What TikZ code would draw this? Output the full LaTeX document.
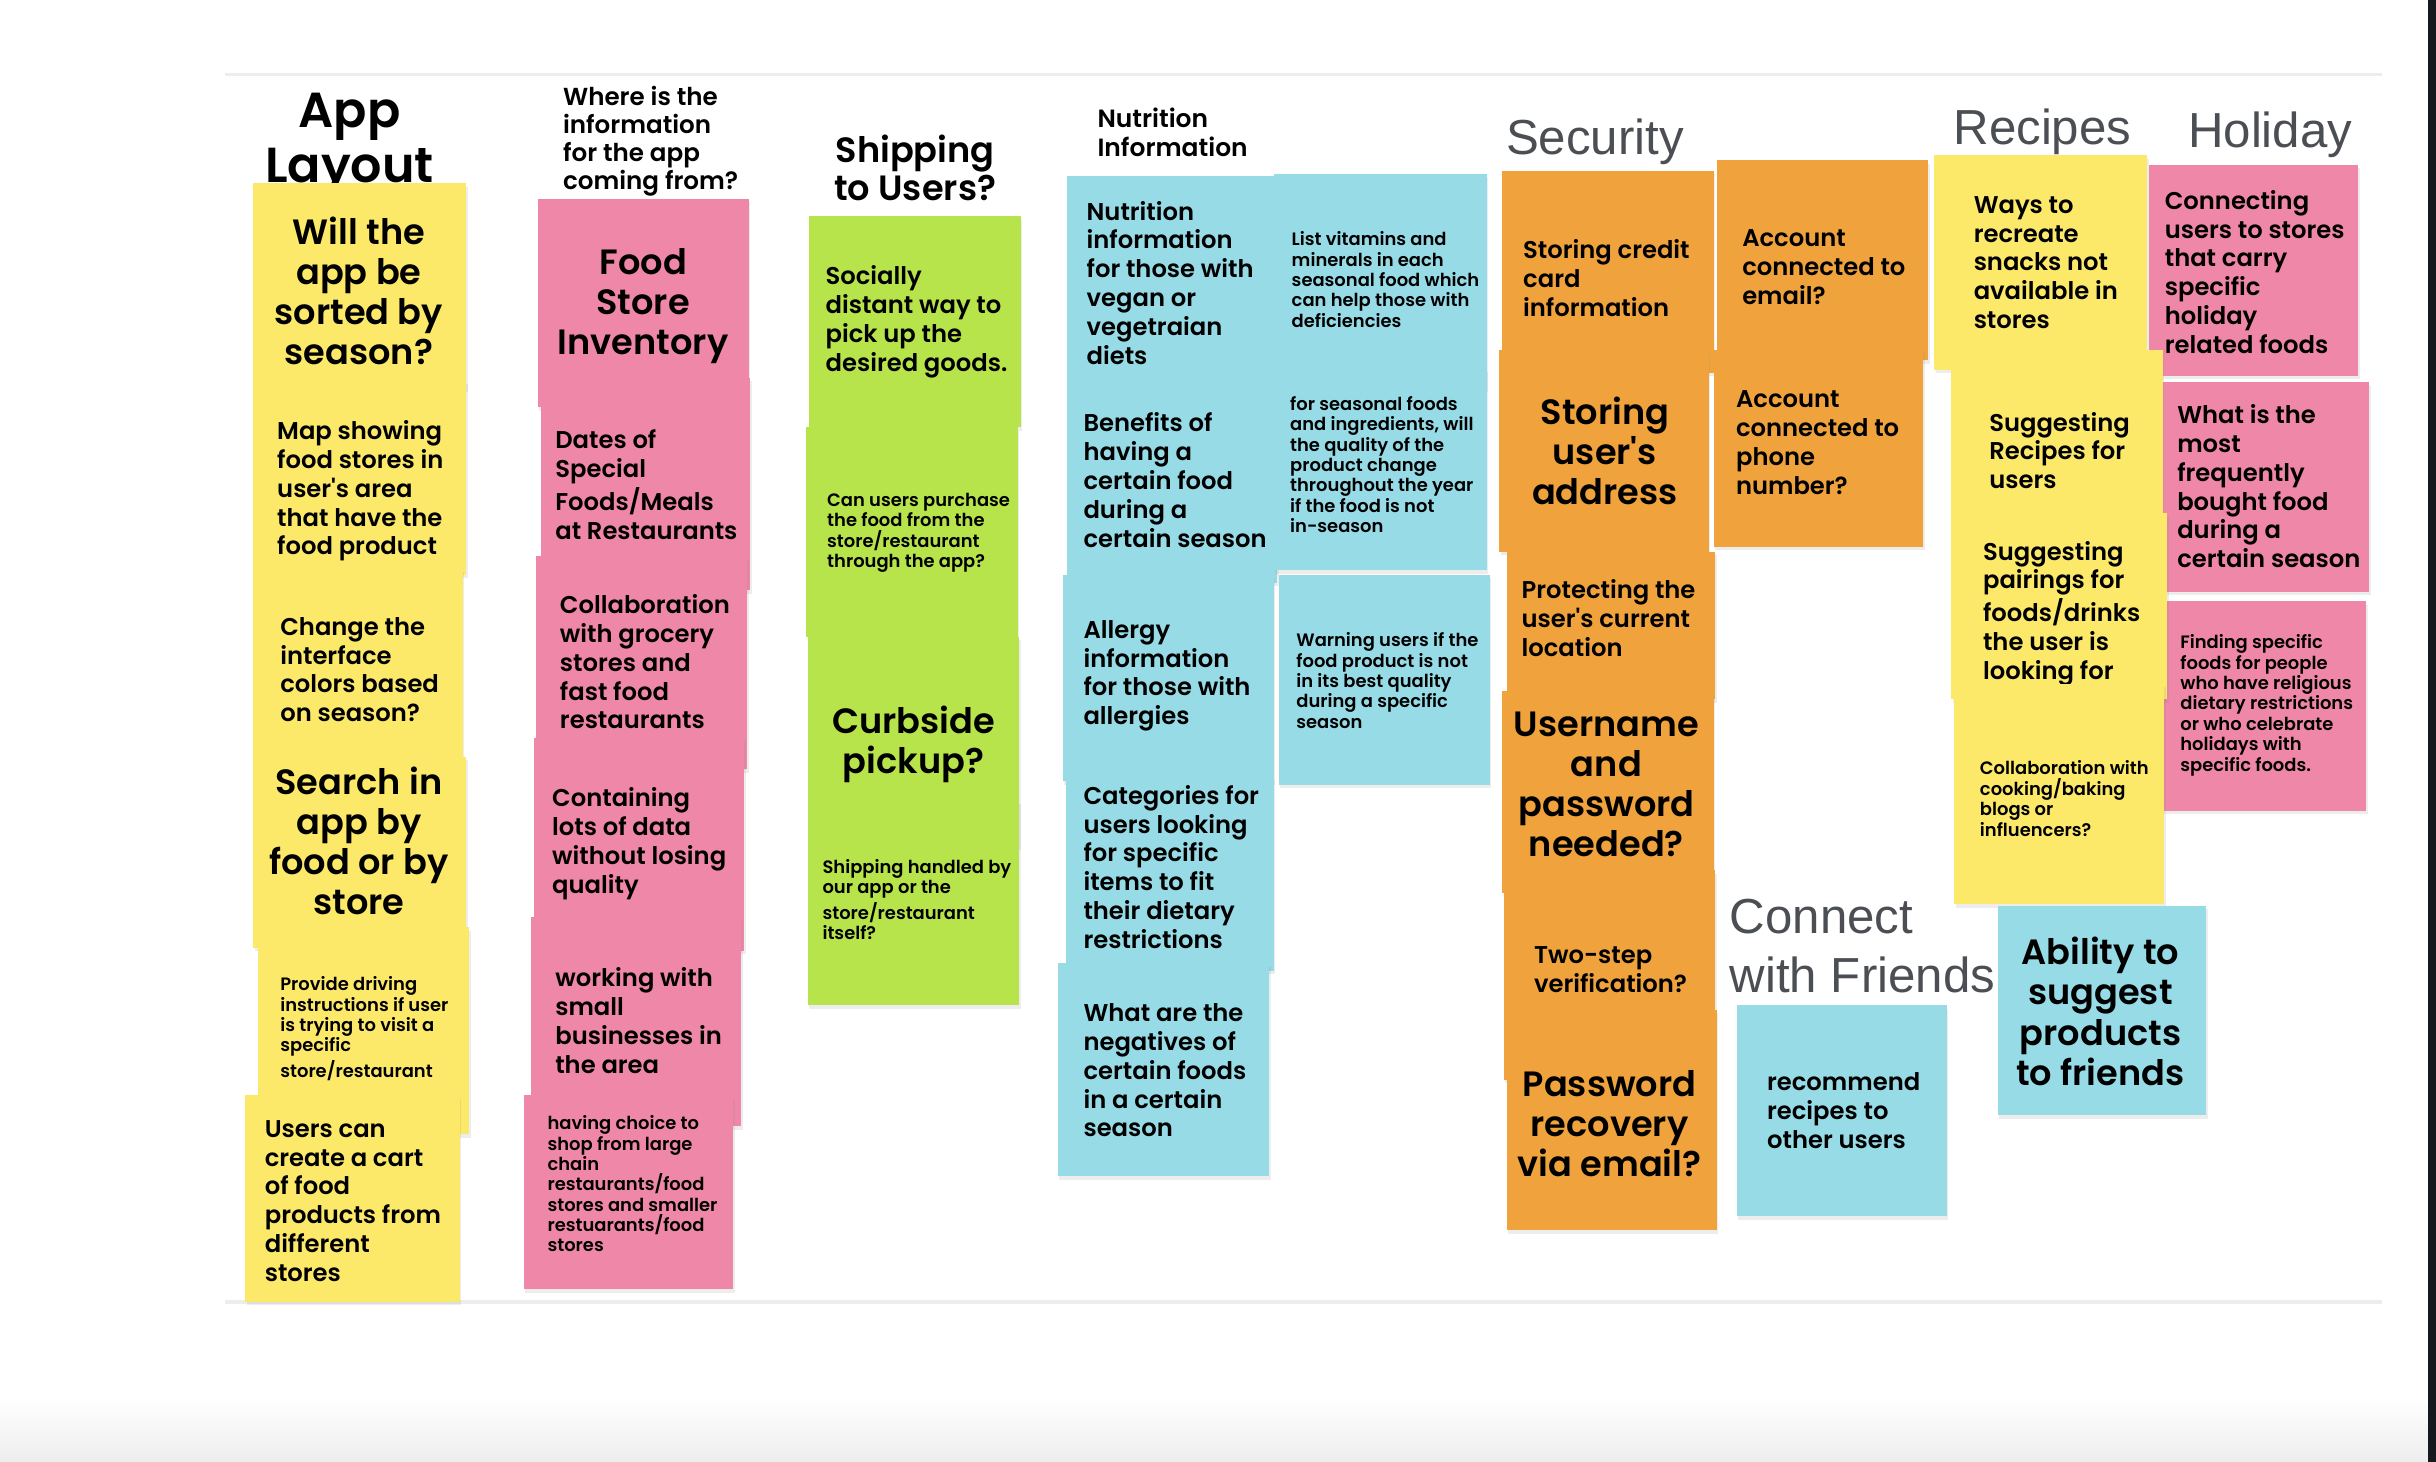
\documentclass[tikz,border=0pt]{standalone}
\usepackage{fontspec}
\setmainfont{Poppins}[BoldFont={Poppins SemiBold}]
\newfontfamily\headfont{Liberation Sans}
\usepackage{tikz}
\usetikzlibrary{shadows}

\definecolor{noteyellow}{HTML}{FCE96A}
\definecolor{notepink}{HTML}{EF87A8}
\definecolor{notegreen}{HTML}{B7E34B}
\definecolor{noteblue}{HTML}{96DBE6}
\definecolor{noteorange}{HTML}{F0A33C}
\definecolor{headgray}{HTML}{4B4F54}
\definecolor{rulegray}{HTML}{EDEDED}
\definecolor{edgedark}{HTML}{15181C}

\begin{document}
\begin{tikzpicture}[x=0.15536mm,y=-0.15536mm,
	note/.style={drop shadow={opacity=0.14,shadow xshift=0.15mm,shadow yshift=-0.35mm}},
	bigtxt/.style={inner sep=0pt,align=center,font=\bfseries\fontsize{10}{11.4}\selectfont},
	midtxt/.style={inner sep=0pt,anchor=west,align=left,font=\bfseries\fontsize{6.9}{8.2}\selectfont},
	tinytxt/.style={inner sep=0pt,anchor=west,align=left,font=\bfseries\fontsize{5.1}{5.8}\selectfont},
	grouptxt/.style={inner sep=0pt,font=\bfseries},
	headtxt/.style={inner sep=0pt,anchor=west,align=left,text=headgray,font=\headfont\fontsize{14}{16.8}\selectfont}]
	\useasboundingbox (0,0) rectangle (1568,941);
	\fill[white] (0,0) rectangle (1568,941);
	\shade[top color=white,bottom color=black!7] (0,899) rectangle (1563,941);
	\fill[edgedark] (1563,0) rectangle (1568,941);
	\draw[rulegray,line width=1pt] (145,48) -- (1533,48);
	\draw[rulegray,line width=1pt] (145,838) -- (1533,838);

	% App Layout
	\node[grouptxt,align=center,font=\bfseries\fontsize{14}{15.6}\selectfont] (layout) at (225,93) {App\\Layout};
	\fill[noteyellow,note] (163,118) rectangle (300,250);
	\node[bigtxt] (sorted) at (231,187) {Will the\\app be\\sorted by\\season?};
	\fill[noteyellow,note] (163,245) rectangle (300,370);
	\node[midtxt] (map) at (178,316) {Map showing\\food stores in\\user\textquotesingle s area\\that have the\\food product};
	\fill[noteyellow,note] (163,366) rectangle (298,490);
	\node[midtxt] (colors) at (180,431) {Change the\\interface\\colors based\\on season?};
	\fill[noteyellow,note] (163,487) rectangle (300,610);
	\node[bigtxt] (search) at (231,541) {Search in\\app by\\food or by\\store};
	\fill[noteyellow,note] (166,597) rectangle (302,730);
	\node[tinytxt] (driving) at (180,662) {Provide driving\\instructions if user\\is trying to visit a\\specific\\store/restaurant};
	\fill[noteyellow,note] (158,705) rectangle (296,838);
	\node[midtxt] (cart) at (170,773) {Users can\\create a cart\\of food\\products from\\different\\stores};

	% Where is the information
	\node[grouptxt,anchor=west,align=left,font=\bfseries\fontsize{7}{8}\selectfont] (source) at (362,91) {Where is the\\information\\for the app\\coming from?};
	\fill[notepink,note] (346,128) rectangle (482,262);
	\node[bigtxt] (inventory) at (414,197) {Food\\Store\\Inventory};
	\fill[notepink,note] (348,243) rectangle (483,380);
	\node[midtxt] (dates) at (357,312) {Dates of\\Special\\Foods/Meals\\at Restaurants};
	\fill[notepink,note] (345,358) rectangle (481,495);
	\node[midtxt] (grocery) at (360,426) {Collaboration\\with grocery\\stores and\\fast food\\restaurants};
	\fill[notepink,note] (344,475) rectangle (479,612);
	\node[midtxt] (data) at (355,543) {Containing\\lots of data\\without losing\\quality};
	\fill[notepink,note] (342,590) rectangle (477,725);
	\node[midtxt] (small) at (357,657) {working with\\small\\businesses in\\the area};
	\fill[notepink,note] (337,705) rectangle (472,830);
	\node[tinytxt] (choice) at (352,762) {having choice to\\shop from large\\chain\\restaurants/food\\stores and smaller\\restuarants/food\\stores};

	% Shipping
	\node[grouptxt,align=center,font=\bfseries\fontsize{10}{11}\selectfont] (shipping) at (589,108) {Shipping\\to Users?};
	\fill[notegreen,note] (521,139) rectangle (657,275);
	\node[midtxt] (distant) at (531,207) {Socially\\distant way to\\pick up the\\desired goods.};
	\fill[notegreen,note] (519,275) rectangle (655,410);
	\node[tinytxt] (purchase) at (532,343) {Can users purchase\\the food from the\\store/restaurant\\through the app?};
	\fill[notegreen,note] (520,410) rectangle (656,545);
	\node[bigtxt] (curbside) at (588,479) {Curbside\\pickup?};
	\fill[notegreen,note] (520,515) rectangle (656,647);
	\node[tinytxt] (handled) at (529,579) {Shipping handled by\\our app or the\\store/restaurant\\itself?};

	% Nutrition Information
	\node[grouptxt,anchor=west,align=left,font=\bfseries\fontsize{7.1}{8.2}\selectfont] (nutrition) at (706,85) {Nutrition\\Information};
	\fill[noteblue,note] (687,113) rectangle (820,250);
	\node[midtxt] (vegan) at (699,182) {Nutrition\\information\\for those with\\vegan or\\vegetraian\\diets};
	\fill[noteblue,note] (687,247) rectangle (822,375);
	\node[midtxt] (benefits) at (697,309) {Benefits of\\having a\\certain food\\during a\\certain season};
	\fill[noteblue,note] (684,370) rectangle (820,503);
	\node[midtxt] (allergy) at (697,435) {Allergy\\information\\for those with\\allergies};
	\fill[noteblue,note] (686,500) rectangle (820,625);
	\node[midtxt] (categories) at (697,558) {Categories for\\users looking\\for specific\\items to fit\\their dietary\\restrictions};
	\fill[noteblue,note] (681,620) rectangle (817,757);
	\node[midtxt] (negatives) at (697,689) {What are the\\negatives of\\certain foods\\in a certain\\season};
	\fill[noteblue,note] (820,112) rectangle (957,250);
	\node[tinytxt] (vitamins) at (831,180) {List vitamins and\\minerals in each\\seasonal food which\\can help those with\\deficiencies};
	\fill[noteblue,note] (820,237) rectangle (957,367);
	\node[tinytxt] (quality) at (830,299) {for seasonal foods\\and ingredients, will\\the quality of the\\product change\\throughout the year\\if the food is not\\in-season};
	\fill[noteblue,note] (823,370) rectangle (959,505);
	\node[tinytxt] (warning) at (834,438) {Warning users if the\\food product is not\\in its best quality\\during a specific\\season};

	% Security
	\node[headtxt] (security) at (969,91) {Security};
	\fill[noteorange,note] (967,110) rectangle (1103,240);
	\node[midtxt] (credit) at (980,179) {Storing credit\\card\\information};
	\fill[noteorange,note] (965,225) rectangle (1100,355);
	\node[bigtxt] (address) at (1033,290) {Storing\\user\textquotesingle s\\address};
	\fill[noteorange,note] (970,355) rectangle (1104,450);
	\node[midtxt] (location) at (979,398) {Protecting the\\user\textquotesingle s current\\location};
	\fill[noteorange,note] (967,445) rectangle (1103,575);
	\node[bigtxt] (username) at (1034,505) {Username\\and\\password\\needed?};
	\fill[noteorange,note] (968,560) rectangle (1104,695);
	\node[midtxt] (twostep) at (987,624) {Two-step\\verification?};
	\fill[noteorange,note] (970,650) rectangle (1105,792);
	\node[bigtxt] (recovery) at (1036,723) {Password\\recovery\\via email?};
	\fill[noteorange,note] (1105,103) rectangle (1241,232);
	\node[midtxt] (email) at (1121,172) {Account\\connected to\\email?};
	\fill[noteorange,note] (1103,225) rectangle (1238,352);
	\node[midtxt] (phone) at (1117,285) {Account\\connected to\\phone\\number?};

	% Holiday
	\node[headtxt] (holiday) at (1408,87) {Holiday};
	\fill[notepink,note] (1383,106) rectangle (1518,242);
	\node[midtxt] (holidayfoods) at (1393,175) {Connecting\\users to stores\\that carry\\specific\\holiday\\related foods};
	\fill[notepink,note] (1389,246) rectangle (1525,381);
	\node[midtxt] (frequent) at (1401,313) {What is the\\most\\frequently\\bought food\\during a\\certain season};
	\fill[notepink,note] (1386,387) rectangle (1523,522);
	\node[tinytxt] (religious) at (1403,454) {Finding specific\\foods for people\\who have religious\\dietary restrictions\\or who celebrate\\holidays with\\specific foods.};

	% Recipes
	\node[headtxt] (recipes) at (1257,85) {Recipes};
	\fill[noteyellow,note] (1245,100) rectangle (1382,238);
	\node[midtxt] (snacks) at (1270,169) {Ways to\\recreate\\snacks not\\available in\\stores};
	\fill[noteyellow,note] (1256,225) rectangle (1392,355);
	\node[midtxt] (suggest) at (1280,290) {Suggesting\\Recipes for\\users};
	\fill[noteyellow,note] (1256,330) rectangle (1395,450);
	\node[midtxt] (pairings) at (1276,395) {Suggesting\\pairings for\\foods/drinks\\the user is\\looking for};
	\fill[noteyellow,note] (1258,440) rectangle (1393,582);
	\node[tinytxt] (blogs) at (1274,514) {Collaboration with\\cooking/baking\\blogs or\\influencers?};

	% Connect with Friends
	\node[headtxt] (friends) at (1113,609) {Connect\\with Friends};
	\fill[noteblue,note] (1118,647) rectangle (1253,783);
	\node[midtxt] (recommend) at (1137,715) {recommend\\recipes to\\other users};
	\fill[noteblue,note] (1286,583) rectangle (1420,718);
	\node[bigtxt] (products) at (1352,651) {Ability to\\suggest\\products\\to friends};
\end{tikzpicture}
\end{document}
